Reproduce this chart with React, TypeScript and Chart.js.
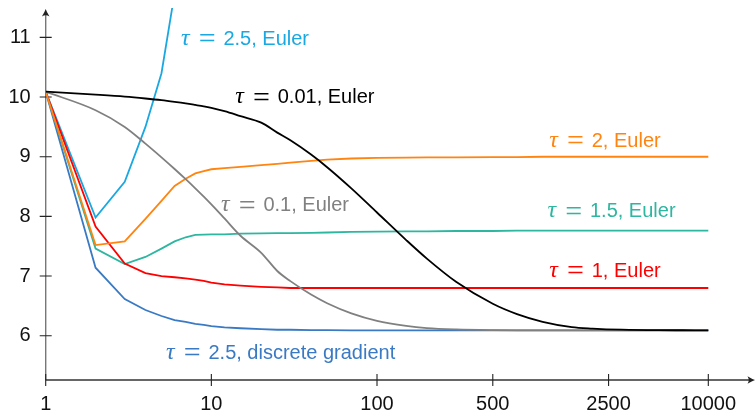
import React, { useEffect, useRef } from "react";
import { Chart, registerables } from "chart.js";

Chart.register(...registerables);

// ---- data ----
const ITERS = [1, 2, 3, 4, 5, 6, 7, 8, 9, 10, 12, 15, 20, 25, 30, 40, 50, 70, 100, 150, 200, 300, 500, 700, 1000, 1500, 2000, 3000, 5000, 7000, 10000];

const TAU_001_EULER = [10.09, 10.04, 10.007, 9.976, 9.948, 9.92, 9.894, 9.868, 9.844, 9.818, 9.763, 9.68, 9.571, 9.404, 9.275, 9.036, 8.824, 8.469, 8.065, 7.603, 7.292, 6.904, 6.535, 6.362, 6.233, 6.144, 6.12, 6.101, 6.092, 6.091, 6.09];
const TAU_01_EULER = [10.09, 9.78, 9.5, 9.22, 8.99, 8.795, 8.624, 8.471, 8.331, 8.2, 7.965, 7.675, 7.39, 7.085, 6.915, 6.69, 6.545, 6.375, 6.25, 6.165, 6.128, 6.105, 6.093, 6.09, 6.09, 6.09, 6.09, 6.09, 6.09, 6.09, 6.09];
const TAU_2_EULER = [10.09, 7.52, 7.58, 7.96, 8.26, 8.51, 8.63, 8.72, 8.76, 8.79, 8.81, 8.83, 8.86, 8.88, 8.9, 8.93, 8.95, 8.97, 8.98, 8.985, 8.99, 8.99, 8.995, 8.995, 9.0, 9.0, 9.0, 9.0, 9.0, 9.0, 9.0];
const TAU_15_EULER = [10.09, 7.46, 7.2, 7.32, 7.46, 7.58, 7.65, 7.69, 7.695, 7.7, 7.7, 7.71, 7.715, 7.72, 7.72, 7.725, 7.73, 7.74, 7.745, 7.75, 7.75, 7.755, 7.755, 7.76, 7.76, 7.76, 7.76, 7.76, 7.76, 7.76, 7.76];
const TAU_1_EULER = [10.09, 7.83, 7.21, 7.05, 7.0, 6.98, 6.96, 6.94, 6.92, 6.89, 6.86, 6.84, 6.82, 6.81, 6.8, 6.8, 6.8, 6.8, 6.8, 6.8, 6.8, 6.8, 6.8, 6.8, 6.8, 6.8, 6.8, 6.8, 6.8, 6.8, 6.8];
const TAU_25_DG = [10.09, 7.14, 6.615, 6.43, 6.33, 6.26, 6.23, 6.2, 6.18, 6.16, 6.14, 6.125, 6.11, 6.1, 6.1, 6.095, 6.095, 6.09, 6.09, 6.09, 6.09, 6.09, 6.09, 6.09, 6.09, 6.09, 6.09, 6.09, 6.09, 6.09, 6.09];

const ITERS_25_EULER = [1, 2, 3, 4, 5, 6];
const TAU_25_EULER = [10.09, 7.98, 8.58, 9.5, 10.4, 11.74];

const X_TICKS = [1, 10, 100, 500, 2500, 10000];
const Y_TICKS = [6, 7, 8, 9, 10, 11];

const X_MIN = 1;
const X_MAX = 18873;
const Y_MIN = 5.2575;
const Y_MAX = 11.493;

// label anchors in data units
const LABEL_TEXTS = ["2.5, Euler", "0.01, Euler", "2, Euler", "0.1, Euler", "1.5, Euler", "1, Euler", "2.5, discrete gradient"];
const LABEL_X = [6.62, 14.09, 1108, 11.55, 1081, 1108, 5.38];
const LABEL_Y = [10.873, 9.895, 9.168, 8.082, 7.985, 6.989, 5.609];

const C_LIGHTBLUE = "#1aa8e2";
const C_BLACK = "#000000";
const C_GRAY = "#808080";
const C_ORANGE = "#ff8410";
const C_TEAL = "#2db6a0";
const C_RED = "#ff0000";
const C_BLUE = "#3a7ac4";
const LABEL_COLORS = [C_LIGHTBLUE, C_BLACK, C_ORANGE, C_GRAY, C_TEAL, C_RED, C_BLUE];

const FONT = '"Liberation Sans", Arial, Helvetica, sans-serif';

const toPoints = (xs: number[], ys: number[]) => xs.map((x, i) => ({ x, y: ys[i] }));

function drawArrow(ctx: CanvasRenderingContext2D, x: number, y: number, angle: number) {
  ctx.save();
  ctx.translate(x, y);
  ctx.rotate(angle);
  ctx.fillStyle = "#222";
  ctx.beginPath();
  ctx.moveTo(0, 0);
  ctx.quadraticCurveTo(-3, -1, -7.5, -3.8);
  ctx.quadraticCurveTo(-5, 0, -7.5, 3.8);
  ctx.quadraticCurveTo(-3, 1, 0, 0);
  ctx.closePath();
  ctx.fill();
  ctx.restore();
}

const axesPlugin = {
  id: "texAxes",
  beforeDatasetsDraw(chart: any) {
    const { ctx, chartArea, scales } = chart;
    const xs = scales.x;
    const ys = scales.y;
    const L = chartArea.left;
    const B = chartArea.bottom;
    ctx.save();
    ctx.strokeStyle = "#777";
    ctx.lineWidth = 1.4;
    ctx.beginPath();
    ctx.moveTo(L, B);
    ctx.lineTo(L, 13);
    ctx.stroke();
    ctx.strokeStyle = "#333";
    ctx.lineWidth = 1.3;
    ctx.beginPath();
    ctx.moveTo(L, B);
    ctx.lineTo(751, B);
    ctx.stroke();
    ctx.strokeStyle = "#222";
    ctx.lineWidth = 1.1;
    ctx.beginPath();
    Y_TICKS.forEach((v) => {
      const py = ys.getPixelForValue(v);
      ctx.moveTo(L - 6, py);
      ctx.lineTo(L + 6, py);
    });
    X_TICKS.forEach((v) => {
      const px = xs.getPixelForValue(v);
      ctx.moveTo(px, B - 6);
      ctx.lineTo(px, B + 6);
    });
    ctx.stroke();
    drawArrow(ctx, L, 9, -Math.PI / 2);
    drawArrow(ctx, 755, B, 0);
    ctx.restore();
  },
};

const labelPlugin = {
  id: "curveLabels",
  afterDatasetsDraw(chart: any) {
    const { ctx, scales } = chart;
    ctx.save();
    ctx.textBaseline = "alphabetic";
    ctx.textAlign = "left";
    LABEL_TEXTS.forEach((txt, i) => {
      const px = scales.x.getPixelForValue(LABEL_X[i]);
      const py = scales.y.getPixelForValue(LABEL_Y[i]);
      ctx.fillStyle = LABEL_COLORS[i];
      ctx.font = 'italic 24px "Liberation Serif", "DejaVu Serif", serif';
      ctx.fillText("τ", px - 0.8, py);
      ctx.font = '30px "Liberation Serif", serif';
      ctx.fillText("=", px + 17, py + 3.3);
      ctx.font = "20px " + FONT;
      ctx.fillText(txt, px + 41.7, py);
    });
    ctx.restore();
  },
};

export default function App() {
  const ref = useRef<HTMLCanvasElement>(null);

  useEffect(() => {
    document.body.style.margin = "0";
    const canvas = ref.current;
    if (!canvas) return;
    const base = { pointRadius: 0, pointHoverRadius: 0, borderWidth: 1.8, fill: false };
    const chart = new Chart(canvas, {
      type: "line",
      data: {
        datasets: [
          { ...base, label: "τ = 0.01, Euler", data: toPoints(ITERS, TAU_001_EULER), borderColor: C_BLACK, cubicInterpolationMode: "monotone" },
          { ...base, label: "τ = 0.1, Euler", data: toPoints(ITERS, TAU_01_EULER), borderColor: C_GRAY, cubicInterpolationMode: "monotone" },
          { ...base, label: "τ = 2, Euler", data: toPoints(ITERS, TAU_2_EULER), borderColor: C_ORANGE, tension: 0 },
          { ...base, label: "τ = 1, Euler", data: toPoints(ITERS, TAU_1_EULER), borderColor: C_RED, tension: 0 },
          { ...base, label: "τ = 2.5, Euler", data: toPoints(ITERS_25_EULER, TAU_25_EULER), borderColor: C_LIGHTBLUE, tension: 0 },
          { ...base, label: "τ = 1.5, Euler", data: toPoints(ITERS, TAU_15_EULER), borderColor: C_TEAL, tension: 0 },
          { ...base, label: "τ = 2.5, discrete gradient", data: toPoints(ITERS, TAU_25_DG), borderColor: C_BLUE, tension: 0 },
        ],
      },
      options: {
        animation: false,
        responsive: false,
        maintainAspectRatio: false,
        layout: { padding: { left: 0, top: 8, right: 2, bottom: 0 } },
        plugins: { legend: { display: false }, tooltip: { enabled: false } },
        scales: {
          x: {
            type: "logarithmic",
            min: X_MIN,
            max: X_MAX,
            afterBuildTicks: (s: any) => {
              s.ticks = X_TICKS.map((v) => ({ value: v }));
            },
            afterFit: (s: any) => {
              s.height = 33;
              s.paddingLeft = 0;
              s.paddingRight = 0;
            },
            grid: { display: false, drawTicks: false },
            border: { display: false },
            ticks: {
              autoSkip: false,
              maxRotation: 0,
              padding: 12,
              color: "#111",
              font: { family: FONT, size: 20 },
              callback: (v: any) => String(v),
            },
          },
          y: {
            type: "linear",
            min: Y_MIN,
            max: Y_MAX,
            afterBuildTicks: (s: any) => {
              s.ticks = Y_TICKS.map((v) => ({ value: v }));
            },
            afterFit: (s: any) => {
              s.width = 45.7;
              s.paddingTop = 0;
              s.paddingBottom = 0;
            },
            grid: { display: false, drawTicks: false },
            border: { display: false },
            ticks: {
              autoSkip: false,
              padding: 15,
              color: "#111",
              font: { family: FONT, size: 20 },
              callback: (v: any) => String(v),
            },
          },
        },
      },
      plugins: [axesPlugin, labelPlugin],
    } as any);
    return () => chart.destroy();
  }, []);

  return (
    <div style={{ width: 756, height: 413 }}>
      <canvas ref={ref} width={756} height={413} style={{ display: "block" }} />
    </div>
  );
}
